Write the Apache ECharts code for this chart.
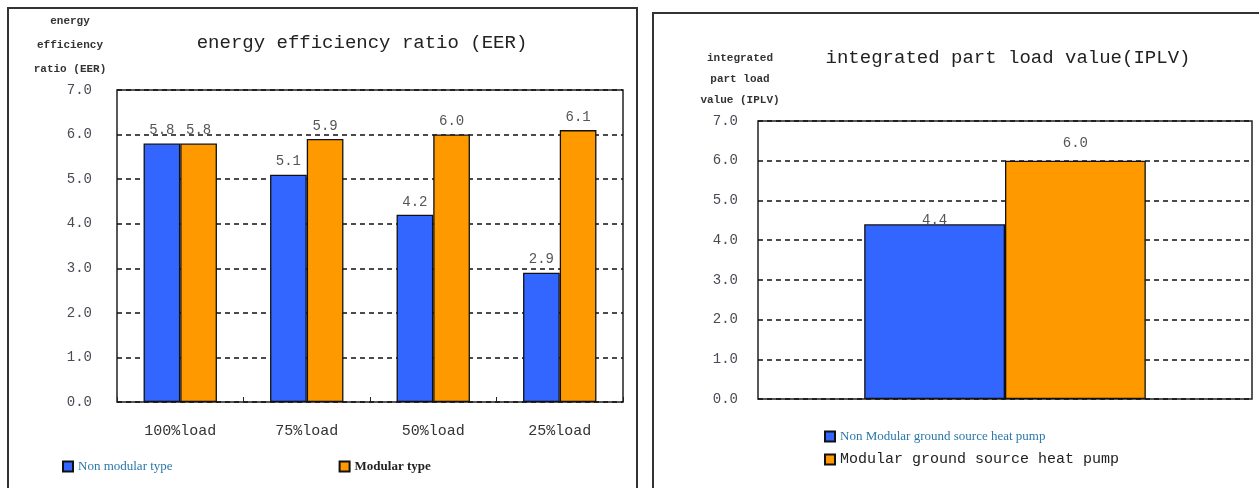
<!DOCTYPE html>
<html>
<head>
<meta charset="utf-8">
<script src="https://cdn.jsdelivr.net/npm/echarts@6/dist/echarts.min.js"></script>
<style>
  html, body { margin: 0; padding: 0; background: #fff; overflow: hidden; }
  #wrap { position: relative; width: 1259px; height: 488px; }
  .panel { position: absolute; border: 2px solid #333; box-sizing: border-box; }
  #main { position: absolute; left: 0; top: 0; width: 1259px; height: 488px; }
</style>
</head>
<body>
<div id="wrap">
  <div class="panel" style="left:7px;top:7px;width:631px;height:500px;"></div>
  <div class="panel" style="left:652px;top:12px;width:620px;height:500px;"></div>
  <div id="main"></div>
</div>
<script>
// left chart: EER by load
const loadCategories = ['100%load', '75%load', '50%load', '25%load'];
const eerNonModular = [5.8, 5.1, 4.2, 2.9];
const eerModular = [5.8, 5.9, 6.0, 6.1];

// right chart: IPLV
const iplvCategories = ['IPLV'];
const iplvNonModular = [4.4];
const iplvModular = [6.0];

const yMin = 0;
const yMax = 7;
const yStep = 1;

const BLUE = '#3366ff';
const ORANGE = '#ff9900';
const MONO = '"Liberation Mono", "DejaVu Sans Mono", monospace';
const SERIF = '"Liberation Serif", "DejaVu Serif", serif';

const myChart = echarts.init(document.getElementById('main'), null, { renderer: 'canvas' });

function valueAxis(grid, margin) {
  return {
    type: 'value',
    gridIndex: grid,
    min: yMin,
    max: yMax,
    interval: yStep,
    axisLine: { show: false },
    axisTick: { show: false },
    axisLabel: {
      margin: margin,
      color: '#4a4a55',
      fontFamily: MONO,
      fontSize: 14,
      formatter: v => v.toFixed(1)
    },
    splitLine: {
      lineStyle: { color: '#111', type: [5, 4], width: 1.6 }
    }
  };
}

function barLabel(distance) {
  return {
    show: true,
    position: 'top',
    distance: distance,
    color: '#555',
    fontFamily: MONO,
    fontSize: 14,
    formatter: p => p.value.toFixed(1)
  };
}

myChart.setOption({
  animation: false,
  backgroundColor: 'transparent',
  title: [
    {
      text: 'energy efficiency ratio (EER)',
      left: 357, top: 28, textAlign: 'center',
      textStyle: { fontFamily: MONO, fontSize: 19, fontWeight: 'normal', color: '#222' }
    },
    {
      text: 'energy\nefficiency\nratio (EER)',
      left: 65, top: 4, textAlign: 'center',
      textStyle: { fontFamily: MONO, fontSize: 11, fontWeight: 'bold', color: '#333', lineHeight: 24 }
    },
    {
      text: 'integrated part load value(IPLV)',
      left: 1003, top: 43, textAlign: 'center',
      textStyle: { fontFamily: MONO, fontSize: 19, fontWeight: 'normal', color: '#222' }
    },
    {
      text: 'integrated\npart load\nvalue (IPLV)',
      left: 735, top: 43, textAlign: 'center',
      textStyle: { fontFamily: MONO, fontSize: 11, fontWeight: 'bold', color: '#333', lineHeight: 21 }
    }
  ],
  legend: [
    {
      left: 57, top: 455,
      icon: 'rect',
      itemWidth: 10, itemHeight: 10, itemGap: 166,
      data: [
        { name: 'Non modular type', textStyle: { fontFamily: SERIF, fontSize: 13, color: '#2b78a8' } },
        { name: 'Modular type', textStyle: { fontFamily: SERIF, fontSize: 13, color: '#222', fontWeight: 'bold' } }
      ]
    },
    {
      left: 819, top: 425, orient: 'vertical',
      icon: 'rect',
      itemWidth: 10, itemHeight: 10, itemGap: 9,
      data: [
        { name: 'Non Modular ground source heat pump', textStyle: { fontFamily: SERIF, fontSize: 13, color: '#2b78a8' } },
        { name: 'Modular ground source heat pump', textStyle: { fontFamily: MONO, fontSize: 15, color: '#222' } }
      ]
    }
  ],
  grid: [
    { left: 117, top: 90, width: 506, height: 312, show: true, borderColor: '#222', borderWidth: 1.5, backgroundColor: '#fff' },
    { left: 758, top: 121, width: 494, height: 278, show: true, borderColor: '#222', borderWidth: 1.5, backgroundColor: '#fff' }
  ],
  xAxis: [
    {
      type: 'category',
      gridIndex: 0,
      data: loadCategories,
      axisLine: { show: false },
      axisTick: { show: true, inside: true, length: 5, lineStyle: { color: '#222' } },
      axisLabel: { margin: 22, color: '#333', fontFamily: MONO, fontSize: 15 }
    },
    {
      type: 'category',
      gridIndex: 1,
      data: iplvCategories,
      axisLine: { show: false },
      axisTick: { show: false },
      axisLabel: { show: false }
    }
  ],
  yAxis: [valueAxis(0, 25), valueAxis(1, 20)],
  series: [
    {
      name: 'Non modular type',
      type: 'bar',
      xAxisIndex: 0, yAxisIndex: 0,
      barGap: '0%',
      barCategoryGap: '42%',
      itemStyle: { color: BLUE, borderColor: '#111', borderWidth: 1.3 },
      label: barLabel(6),
      data: eerNonModular
    },
    {
      name: 'Modular type',
      type: 'bar',
      xAxisIndex: 0, yAxisIndex: 0,
      barGap: '0%',
      barCategoryGap: '42%',
      itemStyle: { color: ORANGE, borderColor: '#111', borderWidth: 1.3 },
      label: barLabel(6),
      data: eerModular
    },
    {
      name: 'Non Modular ground source heat pump',
      type: 'bar',
      xAxisIndex: 1, yAxisIndex: 1,
      barGap: '0%',
      barCategoryGap: '43%',
      itemStyle: { color: BLUE, borderColor: '#111', borderWidth: 1.3 },
      label: barLabel(-3),
      data: iplvNonModular
    },
    {
      name: 'Modular ground source heat pump',
      type: 'bar',
      xAxisIndex: 1, yAxisIndex: 1,
      barGap: '0%',
      barCategoryGap: '43%',
      itemStyle: { color: ORANGE, borderColor: '#111', borderWidth: 1.3 },
      label: barLabel(10),
      data: iplvModular
    }
  ]
});
</script>
</body>
</html>
